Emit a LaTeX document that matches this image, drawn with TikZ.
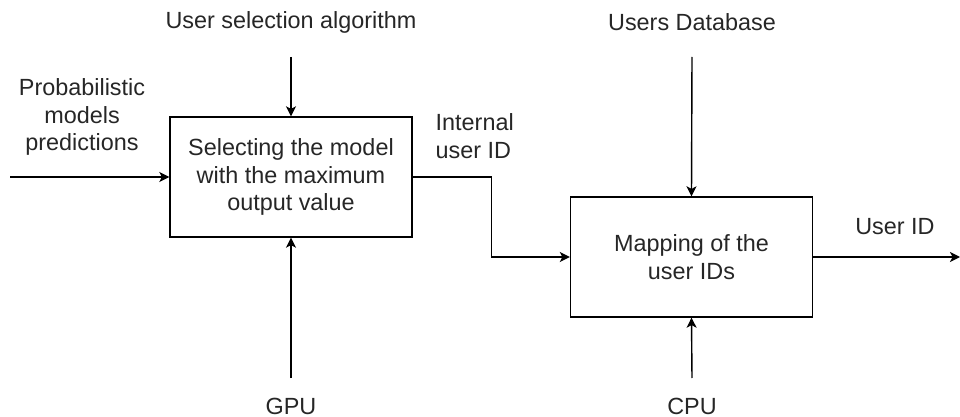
\documentclass[tikz,border=0pt]{standalone}
\usepackage{fontspec}
\setmainfont{Liberation Sans}
\usetikzlibrary{arrows.meta}
\begin{document}
\begin{tikzpicture}[x=.5pt,y=-.5pt,line width=.7pt,>={Stealth[length=5pt,width=5pt,inset=1.3pt]},
  txt/.style={text=black!85,font=\fontsize{11.7}{13.9}\selectfont,align=center,inner sep=0pt},
  blk/.style={txt,draw,minimum width=121pt,minimum height=60pt}]
  \useasboundingbox (0,0) rectangle (960,417);
  \node[blk] (sel) at (291,177) {Selecting the model\\with the maximum\\output value}; \node[blk] (map) at (691.5,257) {Mapping of the\\user IDs};
  \node[txt] (prob) at (82,117) {Probabilistic\\models\\predictions}; \node[txt] (alg) at (291,22) {User selection algorithm}; \node[txt] (db) at (692,22) {Users Database};
  \node[txt] (gpu) at (291,406) {GPU}; \node[txt] (cpu) at (692,406) {CPU}; \node[txt,align=left,anchor=west] (iid) at (435,136) {Internal\\user ID}; \node[txt] (uid) at (895,227) {User ID};
  \coordinate (in) at (10,177); \coordinate (algend) at (291,57); \coordinate (gpuend) at (291,378); \coordinate (dbend) at (692,57); \coordinate (cpuend) at (692,378); \coordinate (out) at (960,257);
  \draw[->] (in)--(sel.west); \draw[->] (algend)--(sel.north); \draw[->] (gpuend)--(sel.south);
  \draw[->] (sel.east)--++(79,0) |- (map.west); \draw[->] (dbend)--(map.north); \draw[->] (cpuend)--(map.south); \draw[->] (map.east)--(out);
\end{tikzpicture}
\end{document}
